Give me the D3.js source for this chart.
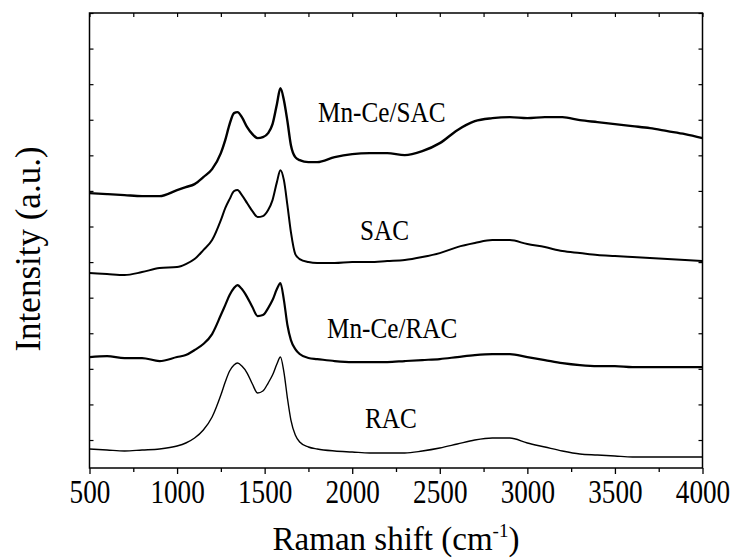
<!DOCTYPE html>
<html>
<head>
<meta charset="utf-8">
<script src="https://cdn.jsdelivr.net/npm/d3@7"></script>
<style>
  html, body { margin: 0; padding: 0; background: #fff; }
  svg { display: block; }
</style>
</head>
<body>
<svg id="chart" width="736" height="559"></svg>
<script>
// Raman shift (cm^-1) sample positions
const ramanShift = [500,600,700,800,900,1000,1050,1100,1150,1200,1250,
  1275,1300,1325,1345,1370,1400,1430,1460,1490,1520,1545,1570,1590,1610,1630,1650,1675,1700,
  1750,1800,
  1900,2000,2100,2200,2300,2400,2500,2600,2700,2800,2900,3000,3100,3200,3300,3400,3500,3600,3700,3800,3900,4000];

// Intensities (a.u., vertically offset as stacked in the figure)
const mnCeSAC = [247,246,245,244,244,250, 253,256,263,271,287,
  300,316,327,328,323,313,306,302,303,307,316,336,352,340,319,295,283,280,
  278,278,
  283,286,287,287,285,289,297,310,319,322,323,322,323,323,320,318,316,314,312,309,306,302];
const sac = [167,166,165,168,172,173, 176,181,190,200,220,
  232,241,249,250,245,237,229,223,224,230,240,258,270,260,235,208,186,181,
  178,177,
  177,178,178,179,180,183,187,193,197,200,200,196,193,189,187,185,184,183,182,181,180,179];
const mnCeRAC = [83,84,82,82,79,83, 85,90,96,106,125,
  135,145,152,155,151,143,133,124,125,132,140,151,157,140,115,100,91,86,
  82,81,
  79,78,78,78,79,80,81,83,85,86,86,83,80,77,75,74,74,73,73,73,73,73];
const rac = [-9,-10,-11,-10,-9,-6, -3,2,10,23,45,
  58,69,75,77,74,67,56,47,49,57,65,76,83,68,42,20,5,-2,
  -7,-9,
  -11,-12,-13,-13,-13,-11,-8,-4,0,2,2,-3,-7,-11,-14,-15,-16,-17,-17,-17,-17,-17];

const seriesNames = ["Mn-Ce/SAC", "SAC", "Mn-Ce/RAC", "RAC"];
const seriesValues = [mnCeSAC, sac, mnCeRAC, rac];

const xTicks = [500,1000,1500,2000,2500,3000,3500,4000];
const xMinorTicks = [750,1250,1750,2250,2750,3250,3750];
const yTickStep = 35.6;

const xTitle = "Raman shift (cm";
const xTitleSup = "-1";
const yTitle = "Intensity (a.u.)";

(function () {
const FONT = "Liberation Serif";
const pL = 89.5, pR = 702.5, pT = 13, pB = 468;
const svg = d3.select("#chart");

const x = d3.scaleLinear().domain([500, 4000]).range([pL, pR]);
const y = d3.scaleLinear().domain([-28, 12 * yTickStep]).range([pB, pT]);
const yTicks = d3.range(0, 12).map(i => i * yTickStep).concat([12 * yTickStep]);

// frame
svg.append("rect")
  .attr("x", pL).attr("y", pT)
  .attr("width", pR - pL).attr("height", pB - pT)
  .attr("fill", "none").attr("stroke", "#000").attr("stroke-width", 1.5);

// bottom axis (outward ticks)
const gB = svg.append("g").attr("transform", `translate(0,${pB})`)
  .call(d3.axisBottom(x).tickValues(xTicks).tickSize(6).tickPadding(6).tickFormat(d3.format("d")));
gB.attr("font-family", FONT);
gB.select(".domain").remove();
gB.selectAll(".tick line").attr("stroke-width", 1.3);
gB.selectAll(".tick text")
  .attr("font-size", 34).attr("dy", null).attr("y", 0)
  .attr("font-family", FONT)
  .attr("fill", "#000")
  .attr("transform", "translate(0,35) scale(0.8,1)");
const gBm = svg.append("g").attr("transform", `translate(0,${pB})`)
  .call(d3.axisBottom(x).tickValues(xMinorTicks).tickSize(4).tickFormat(""));
gBm.select(".domain").remove();
gBm.selectAll(".tick line").attr("stroke-width", 1.3);

// top axis (inward ticks)
const gT = svg.append("g").attr("transform", `translate(0,${pT})`)
  .call(d3.axisBottom(x).tickValues(xTicks.concat(xMinorTicks)).tickSize(4).tickFormat(""));
gT.select(".domain").remove();
gT.selectAll(".tick line").attr("stroke-width", 1.2);

// left axis (inward ticks, no labels)
const gL = svg.append("g").attr("transform", `translate(${pL},0)`)
  .call(d3.axisRight(y).tickValues(yTicks).tickSize(4).tickFormat(""));
gL.select(".domain").remove();
gL.selectAll(".tick line").attr("stroke-width", 1.2);

// right axis (inward ticks)
const gR = svg.append("g").attr("transform", `translate(${pR},0)`)
  .call(d3.axisLeft(y).tickValues(yTicks).tickSize(4).tickFormat(""));
gR.select(".domain").remove();
gR.selectAll(".tick line").attr("stroke-width", 1.2);

// lines
const line = d3.line()
  .x((d, i) => x(ramanShift[i]))
  .y(d => y(d))
  .curve(d3.curveMonotoneX);
const widths = [2.4, 2.0, 2.2, 1.4];
seriesValues.forEach((vals, k) => {
  svg.append("path")
    .datum(vals)
    .attr("d", line)
    .attr("fill", "none")
    .attr("stroke", "#000")
    .attr("stroke-width", widths[k])
    .attr("stroke-linejoin", "round");
});

// series labels
const labelPos = [[318, 122], [360, 240], [327, 338], [365, 428]];
seriesNames.forEach((name, k) => {
  svg.append("text")
    .attr("transform", `translate(${labelPos[k][0]},${labelPos[k][1]}) scale(0.87,1)`)
    .attr("font-family", FONT)
    .attr("font-size", 29)
    .attr("fill", "#000")
    .text(name);
});

// x title
const xt = svg.append("text")
  .attr("x", (pL + pR) / 2).attr("y", 550)
  .attr("text-anchor", "middle")
  .attr("font-family", FONT)
  .attr("fill", "#000")
  .attr("font-size", 33);
xt.append("tspan").text(xTitle);
xt.append("tspan").attr("font-size", 19).attr("dy", -13).text(xTitleSup);
xt.append("tspan").attr("dy", 13).text(")");

// y title
svg.append("text")
  .attr("transform", `translate(40,249) rotate(-90)`)
  .attr("text-anchor", "middle")
  .attr("font-family", FONT)
  .attr("fill", "#000")
  .attr("font-size", 35)
  .text(yTitle);
})();
</script>
</body>
</html>
